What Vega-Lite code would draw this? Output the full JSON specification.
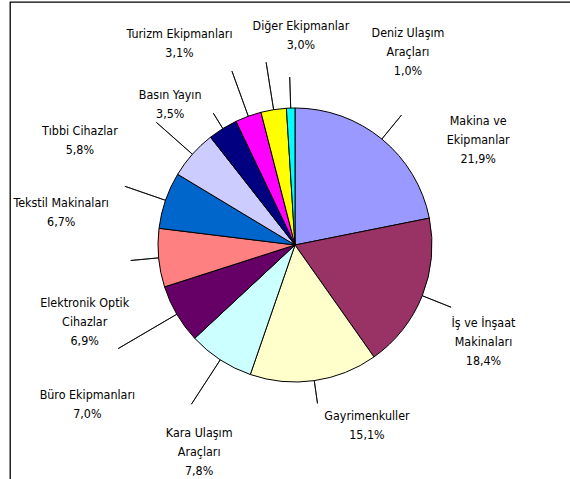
{
  "$schema": "https://vega.github.io/schema/vega-lite/v6.json",
  "width": 570,
  "height": 486,
  "padding": {"left": 10, "top": 2, "right": 0, "bottom": 0},
  "background": "white",
  "view": {"stroke": "black", "strokeWidth": 1.3},
  "config": {
    "view": {"stroke": "black", "strokeWidth": 1.3},
    "text": {"font": "DejaVu Sans Condensed", "fontSize": 12.4, "lineHeight": 19, "lineBreak": "\n", "align": "center", "baseline": "middle", "color": "black"},
    "arc": {"stroke": "black"}
  },
  "data": {
    "values": [
      {"name": "Makina ve\nEkipmanlar", "value": 21.9},
      {"name": "İş ve İnşaat\nMakinaları", "value": 18.4},
      {"name": "Gayrimenkuller", "value": 15.1},
      {"name": "Kara Ulaşım\nAraçları", "value": 7.8},
      {"name": "Büro Ekipmanları", "value": 7.0},
      {"name": "Elektronik Optik\nCihazlar", "value": 6.9},
      {"name": "Tekstil Makinaları", "value": 6.7},
      {"name": "Tıbbi Cihazlar", "value": 5.8},
      {"name": "Basın Yayın", "value": 3.5},
      {"name": "Turizm Ekipmanları", "value": 3.1},
      {"name": "Diğer Ekipmanlar", "value": 3.0},
      {"name": "Deniz Ulaşım\nAraçları", "value": 1.0}
    ]
  },
  "transform": [
    {"window": [{"op": "sum", "field": "value", "as": "cum"}]},
    {"calculate": "datum.cum - datum.value", "as": "start"},
    {"calculate": "datum.cum - datum.value / 2", "as": "mid"},
    {"calculate": "datum.name + '\\n' + replace(format(datum.value, '.1f'), '.', ',') + '%'", "as": "txt"}
  ],
  "encoding": {
    "theta": {"field": "mid", "type": "quantitative", "stack": null, "scale": {"domain": [0, 100.2], "range": [0, 6.283185307]}}
  },
  "layer": [
    {
      "mark": {"type": "arc", "radius": 137, "stroke": "black", "strokeWidth": 1},
      "encoding": {
        "theta": {"field": "start", "type": "quantitative", "stack": null},
        "theta2": {"field": "cum"},
        "color": {
          "field": "name", "type": "nominal", "legend": null,
          "scale": {
            "domain": ["Makina ve\nEkipmanlar", "İş ve İnşaat\nMakinaları", "Gayrimenkuller", "Kara Ulaşım\nAraçları", "Büro Ekipmanları", "Elektronik Optik\nCihazlar", "Tekstil Makinaları", "Tıbbi Cihazlar", "Basın Yayın", "Turizm Ekipmanları", "Diğer Ekipmanlar", "Deniz Ulaşım\nAraçları"],
            "range": ["#9999FF", "#993366", "#FFFFCC", "#CCFFFF", "#660066", "#FF8080", "#0066CC", "#CCCCFF", "#000080", "#FF00FF", "#FFFF00", "#00FFFF"]
          }
        }
      }
    },
    {"transform": [{"filter": {"field": "name", "equal": "Makina ve\nEkipmanlar"}}], "layer": [
      {"mark": {"type": "arc", "radius": 168, "radius2": 137, "filled": false, "strokeWidth": 0.8}, "encoding": {"theta2": {"field": "mid"}}},
      {"mark": {"type": "text", "radius": 211, "thetaOffset": 0.365, "dy": -19}, "encoding": {"text": {"field": "txt"}}}]},
    {"transform": [{"filter": {"field": "name", "equal": "İş ve İnşaat\nMakinaları"}}], "layer": [
      {"mark": {"type": "arc", "radius": 168, "radius2": 137, "filled": false, "strokeWidth": 0.8}, "encoding": {"theta2": {"field": "mid"}}},
      {"mark": {"type": "text", "radius": 212, "thetaOffset": 0.096, "dy": -19}, "encoding": {"text": {"field": "txt"}}}]},
    {"transform": [{"filter": {"field": "name", "equal": "Gayrimenkuller"}}], "layer": [
      {"mark": {"type": "arc", "radius": 160, "radius2": 137, "filled": false, "strokeWidth": 0.8}, "encoding": {"theta2": {"field": "mid"}}},
      {"mark": {"type": "text", "radius": 194, "thetaOffset": -0.239, "dy": -9.5}, "encoding": {"text": {"field": "txt"}}}]},
    {"transform": [{"filter": {"field": "name", "equal": "Kara Ulaşım\nAraçları"}}], "layer": [
      {"mark": {"type": "arc", "radius": 190, "radius2": 137, "filled": false, "strokeWidth": 0.8}, "encoding": {"theta2": {"field": "mid"}}},
      {"mark": {"type": "text", "radius": 228, "thetaOffset": -0.143, "dy": -19}, "encoding": {"text": {"field": "txt"}}}]},
    {"transform": [{"filter": {"field": "name", "equal": "Büro Ekipmanları"}}], "layer": [
      {"mark": {"type": "arc", "radius": 205, "radius2": 137, "filled": false, "strokeWidth": 0.8}, "encoding": {"theta2": {"field": "mid"}}},
      {"mark": {"type": "text", "radius": 262, "thetaOffset": -0.126, "dy": -9.5}, "encoding": {"text": {"field": "txt"}}}]},
    {"transform": [{"filter": {"field": "name", "equal": "Elektronik Optik\nCihazlar"}}], "layer": [
      {"mark": {"type": "arc", "radius": 165, "radius2": 137, "filled": false, "strokeWidth": 0.8}, "encoding": {"theta2": {"field": "mid"}}},
      {"mark": {"type": "text", "radius": 224, "thetaOffset": -0.257, "dy": -19}, "encoding": {"text": {"field": "txt"}}}]},
    {"transform": [{"filter": {"field": "name", "equal": "Tekstil Makinaları"}}], "layer": [
      {"mark": {"type": "arc", "radius": 180, "radius2": 137, "filled": false, "strokeWidth": 0.8}, "encoding": {"theta2": {"field": "mid"}}},
      {"mark": {"type": "text", "radius": 236, "thetaOffset": -0.195, "dy": -9.5}, "encoding": {"text": {"field": "txt"}}}]},
    {"transform": [{"filter": {"field": "name", "equal": "Tıbbi Cihazlar"}}], "layer": [
      {"mark": {"type": "arc", "radius": 185, "radius2": 137, "filled": false, "strokeWidth": 0.8}, "encoding": {"theta2": {"field": "mid"}}},
      {"mark": {"type": "text", "radius": 239, "thetaOffset": -0.274, "dy": -9.5}, "encoding": {"text": {"field": "txt"}}}]},
    {"transform": [{"filter": {"field": "name", "equal": "Basın Yayın"}}], "layer": [
      {"mark": {"type": "arc", "radius": 155, "radius2": 137, "filled": false, "strokeWidth": 0.8}, "encoding": {"theta2": {"field": "mid"}}},
      {"mark": {"type": "text", "radius": 188, "thetaOffset": -0.171, "dy": -9.5}, "encoding": {"text": {"field": "txt"}}}]},
    {"transform": [{"filter": {"field": "name", "equal": "Turizm Ekipmanları"}}], "layer": [
      {"mark": {"type": "arc", "radius": 185, "radius2": 137, "filled": false, "strokeWidth": 0.8}, "encoding": {"theta2": {"field": "mid"}}},
      {"mark": {"type": "text", "radius": 232, "thetaOffset": -0.173, "dy": -9.5}, "encoding": {"text": {"field": "txt"}}}]},
    {"transform": [{"filter": {"field": "name", "equal": "Diğer Ekipmanlar"}}], "layer": [
      {"mark": {"type": "arc", "radius": 185, "radius2": 137, "filled": false, "strokeWidth": 0.8}, "encoding": {"theta2": {"field": "mid"}}},
      {"mark": {"type": "text", "radius": 210, "thetaOffset": 0.185, "dy": -9.5}, "encoding": {"text": {"field": "txt"}}}]},
    {"transform": [{"filter": {"field": "name", "equal": "Deniz Ulaşım\nAraçları"}}], "layer": [
      {"mark": {"type": "arc", "radius": 168, "radius2": 137, "filled": false, "strokeWidth": 0.8}, "encoding": {"theta2": {"field": "mid"}}},
      {"mark": {"type": "text", "radius": 224, "thetaOffset": 0.56, "dy": -19}, "encoding": {"text": {"field": "txt"}}}]}
  ]
}
